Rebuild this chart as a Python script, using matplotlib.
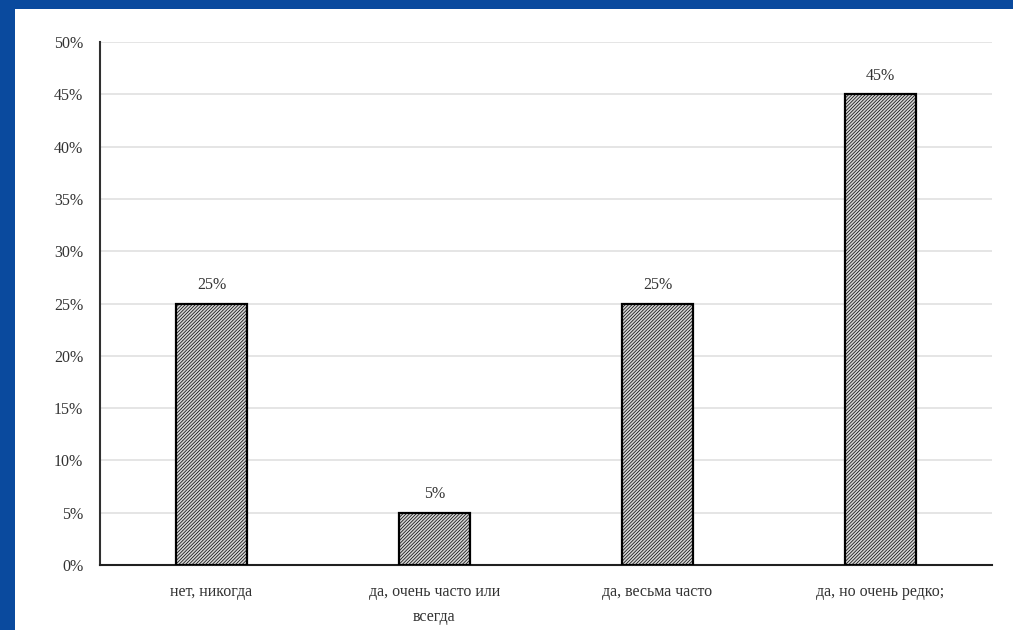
import matplotlib.pyplot as plt
from matplotlib.patches import Rectangle

categories = ['нет, никогда', 'да, очень часто или\nвсегда', 'да, весьма часто', 'да, но очень редко;']
shares = [25, 5, 25, 45]
yticks = [0, 5, 10, 15, 20, 25, 30, 35, 40, 45, 50]

plt.rcParams['font.family'] = ['Liberation Serif', 'DejaVu Serif']
plt.rcParams['hatch.linewidth'] = 0.5
plt.rcParams['hatch.color'] = '#8a8a8a'

fig = plt.figure(figsize=(10.13, 6.3), dpi=100)
fig.patch.set_facecolor('#0a4a9e')
# белая подложка слайда
fig.patches.append(Rectangle((15 / 1013, 0), 1 - 15 / 1013, 1 - 9 / 630,
                             transform=fig.transFigure, facecolor='white',
                             edgecolor='none', zorder=-10))

ax = fig.add_axes([100 / 1013, 65 / 630, 892 / 1013, 523 / 630])
ax.set_facecolor('white')

x = range(len(categories))
ax.bar(x, shares, width=0.315, color='#d4d4d4', edgecolor='black',
       linewidth=1.6, hatch='//////////', zorder=3)
for i, v in enumerate(shares):
    ax.text(i, v + 1.0, '%d%%' % v, ha='center', va='bottom', fontsize=11.5, color='#333333')

ax.set_xlim(-0.5, len(categories) - 0.5)
ax.set_ylim(0, 50)
ax.set_yticks(yticks)
ax.set_yticklabels(['%d%%' % t for t in yticks], fontsize=11.5, color='#333333')
ax.set_xticks(list(x))
ax.set_xticklabels(categories, fontsize=11.5, color='#333333', linespacing=1.75)
ax.tick_params(axis='both', length=0, pad=12)
ax.tick_params(axis='x', pad=14)
ax.yaxis.grid(True, color='#e0e0e0', linewidth=1.2, zorder=0)
ax.set_axisbelow(True)

for s in ['top', 'right']:
    ax.spines[s].set_visible(False)
ax.spines['left'].set_color('#303030')
ax.spines['left'].set_linewidth(1.5)
ax.spines['bottom'].set_color('#202020')
ax.spines['bottom'].set_linewidth(1.5)

plt.savefig('out.png', dpi=100, facecolor=fig.get_facecolor())
